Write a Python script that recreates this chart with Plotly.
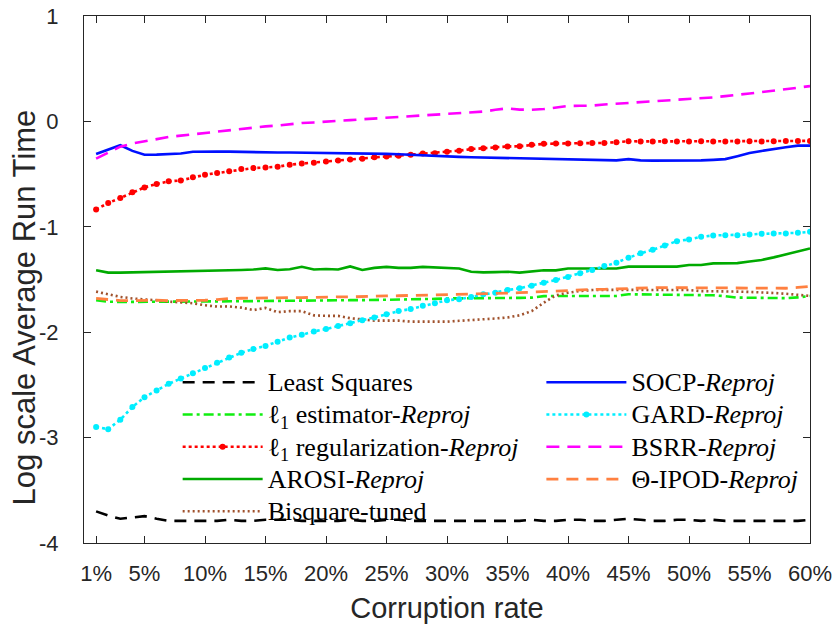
import plotly.graph_objects as go

rates = list(range(1, 61))

least_squares = [-3.70, -3.74, -3.77, -3.76, -3.745, -3.77, -3.79, -3.79, -3.79, -3.79,
                 -3.79, -3.78, -3.79, -3.79, -3.78, -3.78, -3.78, -3.79, -3.79, -3.79,
                 -3.79, -3.78, -3.79, -3.79, -3.78, -3.78, -3.79, -3.79, -3.79, -3.79,
                 -3.79, -3.79, -3.79, -3.79, -3.79, -3.79, -3.78, -3.79, -3.79, -3.78,
                 -3.78, -3.79, -3.79, -3.78, -3.77, -3.78, -3.79, -3.79, -3.78, -3.78,
                 -3.79, -3.78, -3.79, -3.79, -3.79, -3.79, -3.79, -3.79, -3.79, -3.78]

socp = [-0.31, -0.27, -0.226, -0.28, -0.317, -0.315, -0.31, -0.305, -0.288, -0.285,
        -0.285, -0.287, -0.29, -0.29, -0.292, -0.295, -0.295, -0.296, -0.297, -0.298,
        -0.30, -0.30, -0.302, -0.305, -0.308, -0.312, -0.318, -0.324, -0.33, -0.333,
        -0.337, -0.34, -0.343, -0.347, -0.35, -0.353, -0.356, -0.358, -0.36, -0.362,
        -0.364, -0.366, -0.368, -0.37, -0.358, -0.37, -0.372, -0.373, -0.374, -0.375,
        -0.37, -0.365, -0.358, -0.33, -0.30, -0.28, -0.26, -0.245, -0.23, -0.23]

l1_estimator = [-1.697, -1.71, -1.713, -1.713, -1.713, -1.712, -1.712, -1.711, -1.71, -1.71,
                -1.708, -1.707, -1.706, -1.705, -1.703, -1.702, -1.70, -1.699, -1.698, -1.697,
                -1.697, -1.696, -1.696, -1.695, -1.695, -1.693, -1.69, -1.688, -1.684, -1.68,
                -1.68, -1.68, -1.68, -1.677, -1.675, -1.674, -1.672, -1.658, -1.656, -1.656,
                -1.66, -1.662, -1.66, -1.656, -1.64, -1.641, -1.643, -1.643, -1.643, -1.643,
                -1.646, -1.65, -1.658, -1.672, -1.673, -1.674, -1.675, -1.677, -1.67, -1.656]

gard = [-2.90, -2.92, -2.83, -2.71, -2.617, -2.554, -2.49, -2.44, -2.39, -2.34,
        -2.29, -2.24, -2.195, -2.16, -2.13, -2.09, -2.05, -2.025, -1.993, -1.97,
        -1.94, -1.914, -1.886, -1.86, -1.83, -1.80, -1.78, -1.75, -1.725, -1.697,
        -1.687, -1.665, -1.64, -1.625, -1.60, -1.583, -1.56, -1.53, -1.505, -1.476,
        -1.44, -1.41, -1.372, -1.34, -1.294, -1.252, -1.218, -1.177, -1.136, -1.12,
        -1.095, -1.082, -1.08, -1.08, -1.073, -1.067, -1.064, -1.064, -1.057, -1.048]

l1_regularization = [-0.836, -0.774, -0.727, -0.673, -0.626, -0.594, -0.569, -0.56, -0.531, -0.506,
                     -0.49, -0.474, -0.452, -0.443, -0.437, -0.43, -0.411, -0.399, -0.393, -0.38,
                     -0.37, -0.361, -0.355, -0.339, -0.333, -0.327, -0.317, -0.304, -0.301, -0.287,
                     -0.278, -0.263, -0.254, -0.248, -0.238, -0.236, -0.222, -0.213, -0.21, -0.209,
                     -0.208, -0.206, -0.204, -0.197, -0.188, -0.19, -0.19, -0.188, -0.19, -0.19,
                     -0.188, -0.19, -0.19, -0.19, -0.188, -0.19, -0.188, -0.187, -0.186, -0.185]

bsrr = [-0.354, -0.295, -0.24, -0.21, -0.19, -0.165, -0.148, -0.135, -0.122, -0.112,
        -0.10, -0.085, -0.07, -0.055, -0.047, -0.04, -0.025, -0.015, -0.01, -0.005,
        0.005, 0.012, 0.02, 0.027, 0.033, 0.04, 0.05, 0.056, 0.06, 0.072,
        0.075, 0.085, 0.093, 0.11, 0.124, 0.112, 0.11, 0.117, 0.13, 0.146,
        0.148, 0.15, 0.16, 0.167, 0.175, 0.182, 0.19, 0.196, 0.205, 0.212,
        0.218, 0.228, 0.24, 0.25, 0.265, 0.278, 0.29, 0.305, 0.32, 0.335]

arosi = [-1.413, -1.435, -1.435, -1.433, -1.43, -1.428, -1.425, -1.42, -1.422, -1.42,
         -1.415, -1.41, -1.41, -1.405, -1.395, -1.41, -1.403, -1.379, -1.405, -1.40,
         -1.405, -1.376, -1.41, -1.39, -1.38, -1.39, -1.39, -1.38, -1.385, -1.388,
         -1.395, -1.426, -1.432, -1.43, -1.426, -1.435, -1.426, -1.413, -1.413, -1.395,
         -1.395, -1.398, -1.395, -1.395, -1.378, -1.378, -1.378, -1.378, -1.378, -1.363,
         -1.363, -1.347, -1.347, -1.345, -1.33, -1.315, -1.29, -1.26, -1.23, -1.205]

ipod = [-1.68, -1.69, -1.70, -1.70, -1.697, -1.697, -1.70, -1.70, -1.698, -1.697,
        -1.69, -1.68, -1.678, -1.675, -1.672, -1.672, -1.672, -1.672, -1.668, -1.665,
        -1.665, -1.665, -1.66, -1.658, -1.656, -1.654, -1.652, -1.65, -1.648, -1.645,
        -1.643, -1.641, -1.64, -1.635, -1.63, -1.625, -1.62, -1.615, -1.607, -1.60,
        -1.598, -1.595, -1.593, -1.588, -1.583, -1.58, -1.578, -1.577, -1.577, -1.577,
        -1.58, -1.582, -1.583, -1.583, -1.583, -1.583, -1.583, -1.583, -1.575, -1.565]

bisquare = [-1.615, -1.64, -1.665, -1.68, -1.687, -1.697, -1.71, -1.716, -1.725, -1.745,
            -1.757, -1.755, -1.767, -1.79, -1.77, -1.81, -1.80, -1.80, -1.84, -1.845,
            -1.845, -1.867, -1.876, -1.89, -1.89, -1.89, -1.90, -1.90, -1.90, -1.90,
            -1.892, -1.886, -1.876, -1.87, -1.86, -1.84, -1.80, -1.72, -1.65, -1.625,
            -1.61, -1.60, -1.598, -1.598, -1.593, -1.598, -1.598, -1.598, -1.598, -1.60,
            -1.61, -1.61, -1.615, -1.615, -1.618, -1.62, -1.628, -1.635, -1.646, -1.656]

x_tick_vals = [1, 5, 10, 15, 20, 25, 30, 35, 40, 45, 50, 55, 60]
x_tick_text = ["1%", "5%", "10%", "15%", "20%", "25%", "30%", "35%", "40%", "45%", "50%", "55%", "60%"]
y_tick_vals = [-4, -3, -2, -1, 0, 1]
y_tick_text = ["-4", "-3", "-2", "-1", "0", "1"]

R = "-<i>Reproj</i>"


def big(t):
    return '<span style="font-size:26px">' + t + "</span>"


# (name, values, colour, dash, width, markers, legend column)
series = [
    ("Least Squares", least_squares, "#000000", "12px,8px", 2.6, False, "legend"),
    ("ℓ<sub>1</sub> estimator" + R, l1_estimator, "#10ee10", "10px,4px,3px,4px", 2.6, False, "legend"),
    ("ℓ<sub>1</sub> regularization" + R, l1_regularization, "#ff0000", "3px,3px", 2.6, True, "legend"),
    ("AROSI" + R, arosi, "#00aa00", "solid", 2.6, False, "legend"),
    ("Bisquare-tuned", bisquare, "#a0522d", "2px,3px", 2.6, False, "legend"),
    ("SOCP" + R, socp, "#0010ff", "solid", 2.6, False, "legend2"),
    ("GARD" + R, gard, "#00eeff", "3px,3px", 2.6, True, "legend2"),
    ("BSRR" + R, bsrr, "#ff00ff", "13px,8px", 2.6, False, "legend2"),
    ("Θ-IPOD" + R, ipod, "#ff8040", "12px,8px", 2.8, False, "legend2"),
]

fig = go.Figure()
for name, vals, color, dash, width, marks, leg in series:
    fig.add_trace(go.Scatter(
        x=rates, y=vals, name=big(name), legend=leg,
        mode="lines+markers" if marks else "lines",
        line=dict(color=color, dash=dash, width=width),
        marker=dict(size=6, color=color, symbol="circle") if marks else None,
    ))

sans = "Liberation Sans, Arial, sans-serif"
axis_common = dict(
    showline=True, linecolor="#262626", linewidth=1.2, mirror="ticks",
    ticks="inside", ticklen=7, tickwidth=1, tickcolor="#262626",
    showgrid=False, zeroline=False, automargin=False,
    ticklabeloverflow="allow",
    tickfont=dict(family=sans, size=22, color="#262626"),
)

legend_common = dict(
    orientation="v", yanchor="top", xanchor="left",
    bgcolor="rgba(0,0,0,0)", borderwidth=0, itemwidth=80,
    font=dict(family="Liberation Serif, Times New Roman, serif", size=22.5, color="#000000"),
)

# the page body adds an 8px offset, so margins are reduced by 8px on the left/top
fig.update_layout(
    width=840, height=628,
    margin=dict(l=76, r=38, t=8, b=93),
    paper_bgcolor="white", plot_bgcolor="white",
    showlegend=True,
    legend=dict(x=0.129, y=0.345, **legend_common),
    legend2=dict(x=0.63, y=0.345, **legend_common),
    xaxis=dict(range=[0, 60], tickvals=x_tick_vals, ticktext=x_tick_text,
               ticklabelstandoff=10,
               title=dict(text="Corruption rate", standoff=13,
                          font=dict(family=sans, size=29, color="#262626")),
               **axis_common),
    yaxis=dict(range=[-4, 1], tickvals=y_tick_vals, ticktext=y_tick_text,
               ticklabelstandoff=20,
               **axis_common),
    annotations=[dict(
        text="Log scale Average Run Time", textangle=-90,
        xref="paper", yref="paper", x=0, y=0.447, xanchor="center", yanchor="middle",
        xshift=-60, showarrow=False,
        font=dict(family=sans, size=31, color="#262626"),
    )],
)

fig.write_html("out.html")
